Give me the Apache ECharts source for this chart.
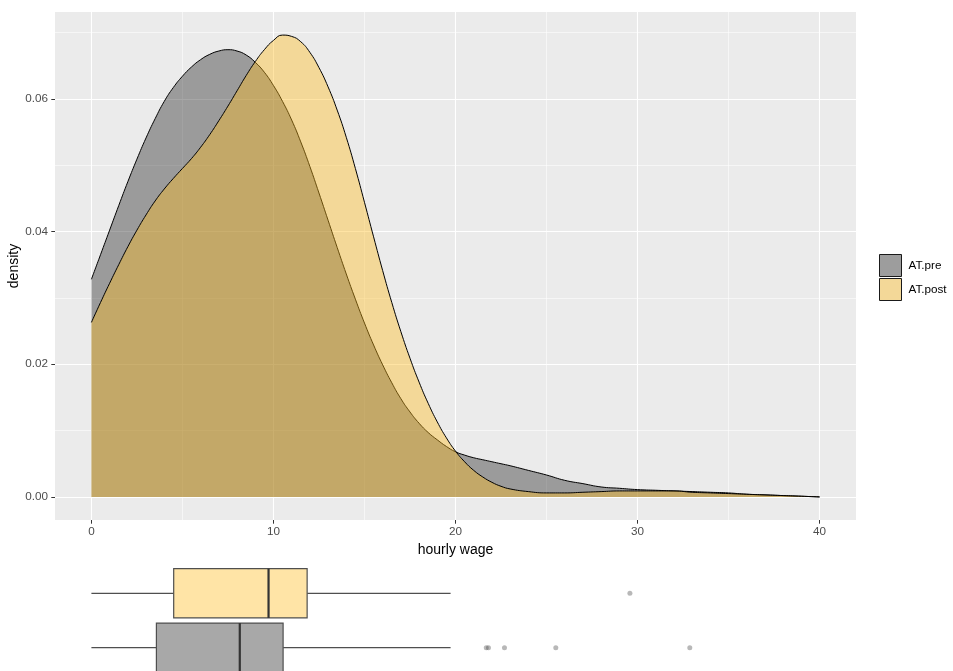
<!DOCTYPE html>
<html><head><meta charset="utf-8">
<script src="https://cdn.jsdelivr.net/npm/echarts@6/dist/echarts.min.js"></script>
<style>html,body{margin:0;padding:0;background:#fff}#c{width:953px;height:671px}</style>
</head><body><div id="c"></div>
<script>
// ---- data ----
const wageGrid = [0,0.5,1,1.5,2,2.5,3,3.5,4,4.5,5,5.5,6,6.5,7,7.5,8,8.5,9,9.5,10,10.5,11,11.5,12,12.5,13,13.5,14,14.5,15,15.5,16,16.5,17,17.5,18,18.5,19,19.5,20,20.5,21,21.5,22,22.5,23,24,25,26,27,28,29,30,31,32,33,34,35,36,37,38,39,40];
const preDensity = [0.0328,0.0365,0.0402,0.0439,0.0475,0.0509,0.0541,0.0570,0.0596,0.0617,0.0634,0.0648,0.0659,0.0667,0.0672,0.0674,0.0672,0.0666,0.0655,0.0640,0.0620,0.0596,0.0568,0.0535,0.0498,0.0458,0.0417,0.0376,0.0336,0.0298,0.0262,0.0229,0.0199,0.0172,0.0148,0.0128,0.0111,0.0097,0.0086,0.0076,0.0068,0.0063,0.0059,0.0056,0.0053,0.0050,0.0047,0.0040,0.0033,0.0025,0.0020,0.0015,0.0013,0.0011,0.0010,0.0009,0.0008,0.0007,0.0006,0.0004,0.0003,0.0002,0.0001,0.0];
const postDensity = [0.0263,0.0293,0.0322,0.0350,0.0377,0.0402,0.0425,0.0446,0.0464,0.0480,0.0495,0.0510,0.0527,0.0546,0.0567,0.0589,0.0612,0.0635,0.0656,0.0674,0.0688,0.0696,0.0694,0.0686,0.0670,0.0647,0.0618,0.0583,0.0542,0.0495,0.0444,0.0392,0.0341,0.0293,0.0249,0.0209,0.0173,0.0141,0.0113,0.0089,0.0069,0.0053,0.0040,0.0030,0.0022,0.0016,0.0012,0.0008,0.0006,0.0006,0.0007,0.0008,0.0009,0.0009,0.0009,0.0009,0.0007,0.0006,0.0005,0.0004,0.0003,0.0002,0.0001,0.0];

const xTicks = [0,10,20,30,40];
const xMinor = [5,15,25,35];
const yTicks = [0,0.02,0.04,0.06];
const yMinor = [0.01,0.03,0.05,0.07];

const groups = ['AT.pre','AT.post'];
const boxMin = [0,0];
const boxQ1 = [3.57,4.52];
const boxMedian = [8.15,9.73];
const boxQ3 = [10.53,11.85];
const boxMax = [19.73,19.73];
const preOutliers = [21.69,21.81,22.69,25.51,32.87];
const postOutliers = [29.58];

// ---- build ----
const FONT = 'Liberation Sans, Arial, sans-serif';
const pairs = arr => wageGrid.map((x,i)=>[x,arr[i]]);
const boxData = groups.map((g,i)=>[i,boxMin[i],boxQ1[i],boxMedian[i],boxQ3[i],boxMax[i]]);
const outData = preOutliers.map(v=>[v,0]).concat(postOutliers.map(v=>[v,1]));

const chart = echarts.init(document.getElementById('c'), null, {renderer:'canvas'});
const hiddenX = (grid, custom, w) => ({
  type:'value', gridIndex:grid, min:-2, max:42, position:'bottom',
  axisLine:{show:false, onZero:false}, axisLabel:{show:false},
  axisTick:{show:false, customValues:custom},
  splitLine:{show:!!w, lineStyle:{color:'#ffffff', width:w||0}}
});
chart.setOption({
  animation:false,
  textStyle:{fontFamily:FONT},
  grid:[
    {left:55, top:12, width:801, height:508, show:true, backgroundColor:'#EBEBEB', borderWidth:0,
     containLabel:false, outerBoundsMode:'none'},
    {left:55, top:566.1, width:801, height:108.8, show:false, containLabel:false, outerBoundsMode:'none'}
  ],
  graphic:[
    {type:'text', x:14, y:266, rotation:Math.PI/2, silent:true,
     style:{text:'density', fontSize:14, fill:'#000', fontFamily:FONT, align:'center', verticalAlign:'middle'}}
  ],
  legend:{
    orient:'vertical', left:879, top:254, padding:0, itemWidth:22, itemHeight:22, itemGap:1,
    icon:'rect', textStyle:{fontSize:11.7, color:'#000', fontFamily:FONT, padding:[0,0,0,2]},
    data:[
      {name:'AT.pre', itemStyle:{color:'#9D9D9D', borderColor:'#1a1a1a', borderWidth:1}},
      {name:'AT.post', itemStyle:{color:'#F3D898', borderColor:'#1a1a1a', borderWidth:1}}
    ]
  },
  xAxis:[
    {type:'value', gridIndex:0, min:-2, max:42,
     name:'hourly wage', nameLocation:'middle', nameGap:23,
     nameTextStyle:{fontSize:14, color:'#000', fontFamily:FONT},
     axisLine:{show:false, onZero:false},
     axisTick:{show:true, length:3.7, customValues:xTicks, lineStyle:{color:'#333333', width:1}},
     axisLabel:{customValues:xTicks, margin:6, fontSize:11.7, color:'#4D4D4D', fontFamily:FONT},
     splitLine:{show:true, lineStyle:{color:'#ffffff', width:1.1}}},
    hiddenX(0, xMinor, 0.55),
    hiddenX(1, xTicks, 0)
  ],
  yAxis:[
    {type:'value', gridIndex:0, min:-0.00348, max:0.07308,
     axisLine:{show:false, onZero:false},
     axisTick:{show:true, length:3.7, customValues:yTicks, lineStyle:{color:'#333333', width:1}},
     axisLabel:{customValues:yTicks, margin:7, fontSize:11.7, color:'#4D4D4D', fontFamily:FONT,
       formatter:v=>v.toFixed(2)},
     splitLine:{show:true, lineStyle:{color:'#ffffff', width:1.1}}},
    {type:'value', gridIndex:0, min:-0.00348, max:0.07308, position:'left',
     axisLine:{show:false, onZero:false}, axisLabel:{show:false},
     axisTick:{show:false, customValues:yMinor},
     splitLine:{show:true, lineStyle:{color:'#ffffff', width:0.55}}},
    {type:'category', gridIndex:1, data:groups, show:false, axisLine:{onZero:false}}
  ],
  series:[
    {name:'AT.pre', type:'line', xAxisIndex:0, yAxisIndex:0, data:pairs(preDensity),
     smooth:0.5, symbol:'none', z:2,
     itemStyle:{color:'#9D9D9D'},
     lineStyle:{color:'#000', width:1},
     areaStyle:{color:'rgba(45,45,45,0.42)', opacity:1, origin:'auto'}},
    {name:'AT.post', type:'line', xAxisIndex:0, yAxisIndex:0, data:pairs(postDensity),
     smooth:0.5, symbol:'none', z:3,
     itemStyle:{color:'#F3D898'},
     lineStyle:{color:'#000', width:1},
     areaStyle:{color:'rgba(255,188,27,0.4)', opacity:1, origin:'auto'}},
    {name:'box', type:'custom', xAxisIndex:2, yAxisIndex:2, data:boxData,
     encode:{x:[1,2,3,4,5], y:0},
     renderItem:(params, api)=>{
       const c = api.value(0);
       const pMin = api.coord([api.value(1), c]);
       const pQ1 = api.coord([api.value(2), c]);
       const pMed = api.coord([api.value(3), c]);
       const pQ3 = api.coord([api.value(4), c]);
       const pMax = api.coord([api.value(5), c]);
       const band = api.size([0,1])[1];
       const h = band*0.905;
       const y = pMin[1];
       const fill = c===0 ? '#A8A8A8' : '#FFE4A6';
       const stroke = '#4F4F4F';
       return {type:'group', children:[
         {type:'line', shape:{x1:pMin[0], y1:y, x2:pQ1[0], y2:y}, style:{stroke:stroke, lineWidth:1.3}},
         {type:'line', shape:{x1:pQ3[0], y1:y, x2:pMax[0], y2:y}, style:{stroke:stroke, lineWidth:1.3}},
         {type:'rect', shape:{x:pQ1[0], y:y-h/2, width:pQ3[0]-pQ1[0], height:h}, style:{fill:fill, stroke:stroke, lineWidth:1.2}},
         {type:'line', shape:{x1:pMed[0], y1:y-h/2, x2:pMed[0], y2:y+h/2}, style:{stroke:'#333333', lineWidth:2.2}}
       ]};
     }},
    {name:'outliers', type:'scatter', xAxisIndex:2, yAxisIndex:2, data:outData,
     symbol:'circle', symbolSize:5, itemStyle:{color:'rgba(77,77,77,0.5)'}}
  ]
});
</script></body></html>
